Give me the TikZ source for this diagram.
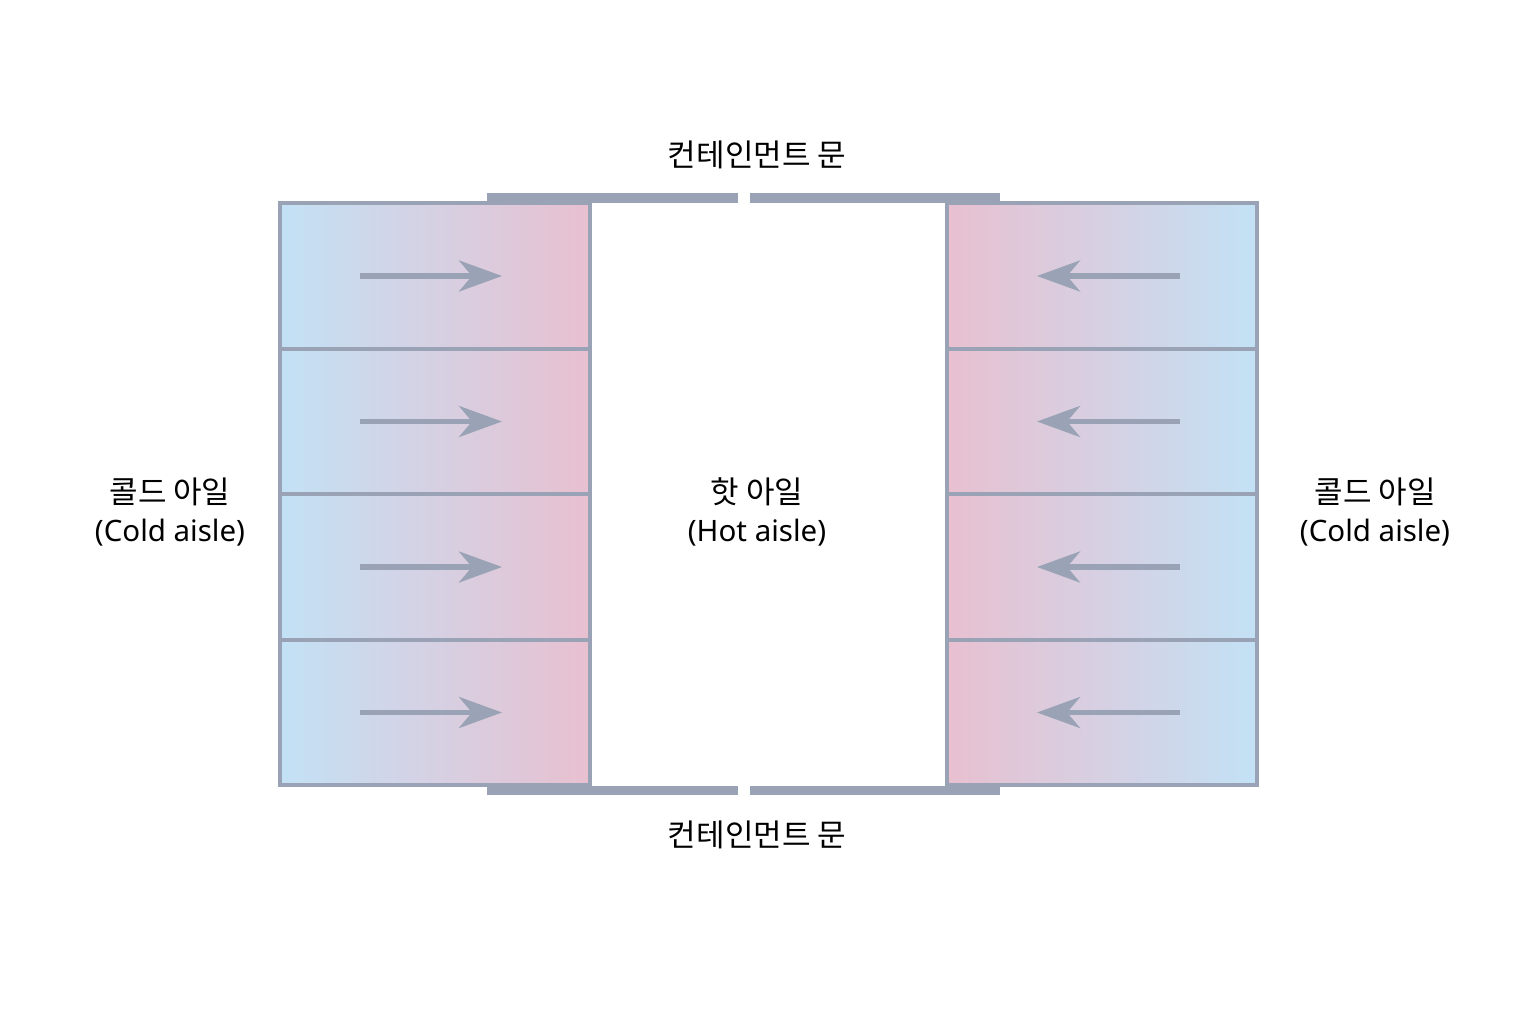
\documentclass[tikz,border=0pt]{standalone}
\usepackage{fontspec}
\setmainfont{Noto Sans}
\newfontfamily\kr{Noto Sans CJK KR}
\usetikzlibrary{arrows.meta}
\definecolor{rackline}{HTML}{9AA3B5}
\definecolor{coldc}{HTML}{C3E1F5}
\definecolor{hotc}{HTML}{E8C0D0}
\newcommand{\krt}[1]{{\kr\fontsize{31}{38}\selectfont #1}}
\begin{document}
\begin{tikzpicture}[x=1pt,y=-1pt,
  cellL/.style={draw=rackline,line width=4pt,left color=coldc,right color=hotc,minimum width=310pt,minimum height=145.5pt,inner sep=0pt,outer sep=0pt},
  cellR/.style={draw=rackline,line width=4pt,left color=hotc,right color=coldc,minimum width=310pt,minimum height=145.5pt,inner sep=0pt,outer sep=0pt},
  flow/.style={draw=rackline,line width=5.5pt,-{Stealth[length=43pt,width=31pt,inset=13pt]}},
  door/.style={fill=rackline},
  lbl/.style={align=center,font=\fontsize{29.5}{38}\selectfont,text=black,inner sep=0pt}]
\useasboundingbox (0,0) rectangle (1534,1036);
% doors
\fill[door] (487,193) rectangle (738,203);
\fill[door] (750,193) rectangle (1000,203);
\fill[door] (487,786) rectangle (738,795);
\fill[door] (750,786) rectangle (1000,795);
% racks
\foreach \i/\yc in {1/276,2/421.5,3/567,4/712.5}{
  \node[cellL] (L\i) at (435,\yc) {};
  \node[cellR] (R\i) at (1102,\yc) {};
  \coordinate (La\i) at (360,\yc);
  \coordinate (Lb\i) at (502,\yc);
  \coordinate (Ra\i) at (1180,\yc);
  \coordinate (Rb\i) at (1037,\yc);
  \draw[flow] (La\i) -- (Lb\i);
  \draw[flow] (Ra\i) -- (Rb\i);
}
% labels
\node[lbl] (dtop) at (757,155) {\krt{컨테인먼트 문}};
\node[lbl] (dbot) at (757,835) {\krt{컨테인먼트 문}};
\node[lbl] (coldL) at (170,512) {\krt{콜드 아일}\\(Cold aisle)};
\node[lbl] (hot) at (757,512) {\krt{핫 아일}\\(Hot aisle)};
\node[lbl] (coldR) at (1375,512) {\krt{콜드 아일}\\(Cold aisle)};
\end{tikzpicture}
\end{document}
